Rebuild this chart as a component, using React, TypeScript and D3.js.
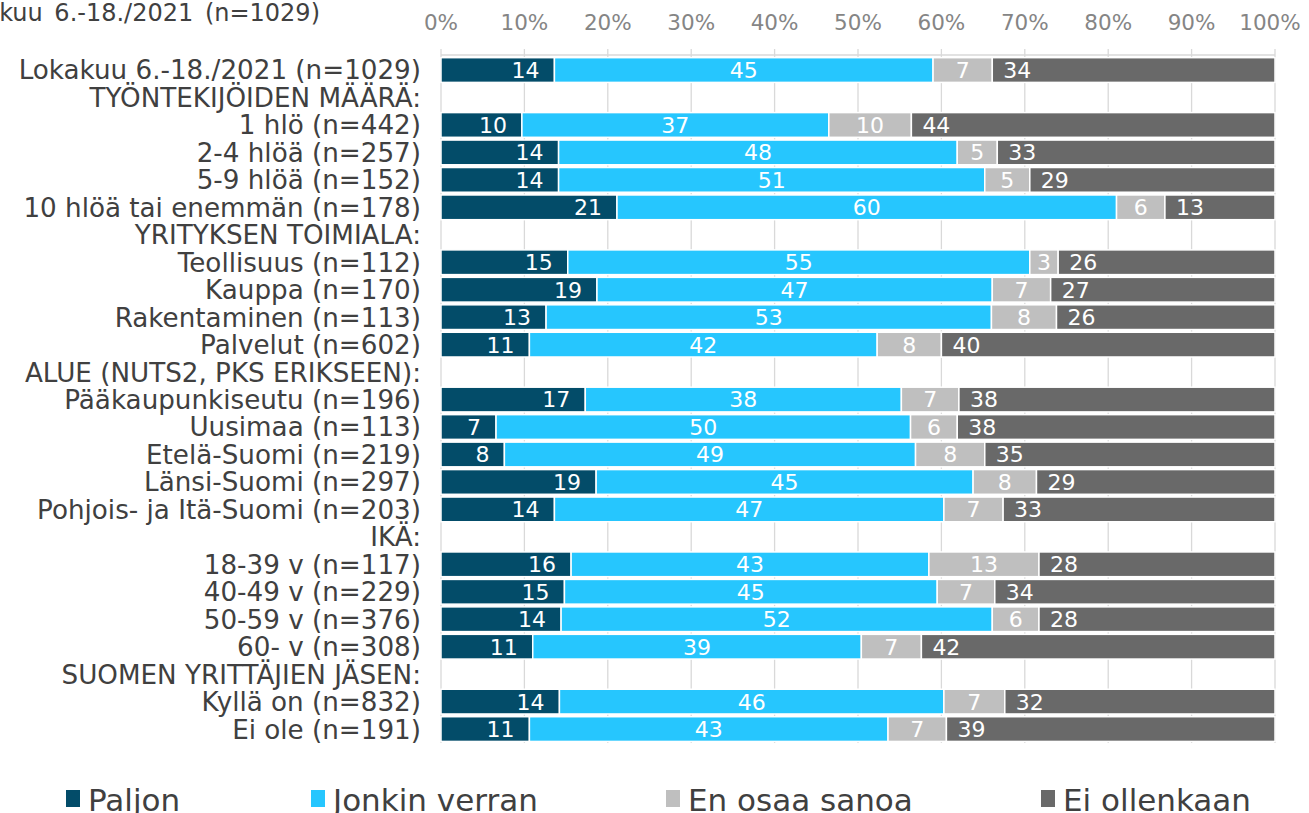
import React from 'react';
import * as d3 from 'd3';

const categories = [
  'Lokakuu 6.-18./2021 (n=1029)',
  'TYÖNTEKIJÖIDEN MÄÄRÄ:',
  '1 hlö (n=442)',
  '2-4 hlöä (n=257)',
  '5-9 hlöä (n=152)',
  '10 hlöä tai enemmän (n=178)',
  'YRITYKSEN TOIMIALA:',
  'Teollisuus (n=112)',
  'Kauppa (n=170)',
  'Rakentaminen (n=113)',
  'Palvelut (n=602)',
  'ALUE (NUTS2, PKS ERIKSEEN):',
  'Pääkaupunkiseutu (n=196)',
  'Uusimaa (n=113)',
  'Etelä-Suomi (n=219)',
  'Länsi-Suomi (n=297)',
  'Pohjois- ja Itä-Suomi (n=203)',
  'IKÄ:',
  '18-39 v (n=117)',
  '40-49 v (n=229)',
  '50-59 v (n=376)',
  '60- v (n=308)',
  'SUOMEN YRITTÄJIEN JÄSEN:',
  'Kyllä on (n=832)',
  'Ei ole (n=191)',
];

const paljon = [13.6, null, 9.7, 14.1, 14.1, 21.1, null, 15.2, 18.7, 12.6, 10.6, null, 17.3, 6.6, 7.6, 18.6, 13.6, null, 15.6, 14.8, 14.4, 11.0, null, 14.2, 10.6];
const jonkinVerran = [45.4, null, 36.8, 47.8, 51.1, 59.9, null, 55.4, 47.4, 53.4, 41.7, null, 37.9, 49.7, 49.3, 45.2, 46.7, null, 42.9, 44.7, 51.7, 39.4, null, 46.1, 43.0];
const enOsaaSanoa = [7.1, null, 9.9, 4.8, 5.4, 5.8, null, 3.4, 7.0, 7.8, 7.7, null, 6.9, 5.6, 8.3, 7.6, 7.1, null, 13.2, 6.9, 5.6, 7.2, null, 7.3, 7.0];
const eiOllenkaan = [33.9, null, 43.6, 33.3, 29.4, 13.2, null, 26.0, 26.9, 26.2, 40.0, null, 37.9, 38.1, 34.8, 28.6, 32.6, null, 28.3, 33.6, 28.3, 42.4, null, 32.4, 39.4];

const seriesNames = ['Paljon', 'Jonkin verran', 'En osaa sanoa', 'Ei ollenkaan'];
const seriesKeys = ['paljon', 'jonkin', 'enosaa', 'ei'];
const seriesColors = ['#034c69', '#26c6fe', '#bfbfbf', '#696969'];

const tickValues = [0, 10, 20, 30, 40, 50, 60, 70, 80, 90, 100];
const titleText = 'Lokakuu 6.-18./2021 (n=1029)';

const W = 1309;
const H = 813;
const FONT = 'DejaVu Sans, Verdana, sans-serif';

export default function App() {
  const x = d3.scaleLinear().domain([0, 100]).range([441, 1275]);
  const y = d3
    .scaleBand<number>()
    .domain(categories.map((_, i) => i))
    .range([56.3, 742.8])
    .paddingInner(0.1)
    .paddingOuter(0.05);

  const table = categories
    .map((c, i) => ({
      idx: i,
      paljon: paljon[i],
      jonkin: jonkinVerran[i],
      enosaa: enOsaaSanoa[i],
      ei: eiOllenkaan[i],
    }))
    .filter((d) => d.paljon !== null);

  const stacked = d3.stack<any>().keys(seriesKeys)(table);

  const legendX = [66, 311, 666, 1041];

  return (
    <svg
      width={W}
      height={H}
      style={{ position: 'absolute', left: 0, top: 0, background: '#fff' }}
      fontFamily={FONT}
    >
      <rect x={0} y={0} width={W} height={H} fill="#ffffff" />
      {/* cut title */}
      <text x={320} y={21} textAnchor="end" fontSize={24} wordSpacing={4} fill="#404040">
        {titleText}
      </text>

      {/* gridlines + ticks */}
      {tickValues.map((t) => (
        <g key={t}>
          <line x1={x(t)} x2={x(t)} y1={49} y2={743} stroke="#d9d9d9" strokeWidth={1.3} />
          <text x={t === 100 ? x(t) - 5 : x(t)} y={30} textAnchor="middle" fontSize={21.5} fill="#858585">
            {t + '%'}
          </text>
        </g>
      ))}
      <line x1={x(0)} x2={x(100)} y1={55} y2={55} stroke="#d9d9d9" strokeWidth={1.3} />

      {/* bars */}
      {stacked.map((s, si) => (
        <g key={s.key}>
          {s.map((d: any) => {
            const yy = y(d.data.idx)!;
            const bw = y.bandwidth();
            const x0 = x(d[0]);
            const x1 = x(d[1]);
            const v = d[1] - d[0];
            const label = String(Math.round(v));
            let lx = (x0 + x1) / 2;
            let anchor: any = 'middle';
            if (si === 0) {
              lx = x1 - 15;
              anchor = 'end';
            } else if (si === 3) {
              lx = x0 + 11;
              anchor = 'start';
            }
            return (
              <g key={d.data.idx}>
                <rect
                  x={x0}
                  y={yy}
                  width={x1 - x0}
                  height={bw}
                  fill={seriesColors[si]}
                  stroke="#ffffff"
                  strokeWidth={1.5}
                />
                <text
                  x={lx}
                  y={yy + bw / 2}
                  dy="0.36em"
                  textAnchor={anchor}
                  fontSize={22}
                  fill="#ffffff"
                >
                  {label}
                </text>
              </g>
            );
          })}
        </g>
      ))}

      {/* category labels */}
      {categories.map((c, i) => (
        <text
          key={i}
          x={421}
          y={y(i)! + y.bandwidth() / 2}
          dy="0.36em"
          textAnchor="end"
          fontSize={26.2}
          fill="#404040"
        >
          {c}
        </text>
      ))}

      {/* legend */}
      {seriesNames.map((n, i) => (
        <g key={n}>
          <rect x={legendX[i]} y={790} width={14} height={17} fill={seriesColors[i]} />
          <text x={legendX[i] + 22} y={811} fontSize={31} fill="#404040">
            {n}
          </text>
        </g>
      ))}
    </svg>
  );
}
